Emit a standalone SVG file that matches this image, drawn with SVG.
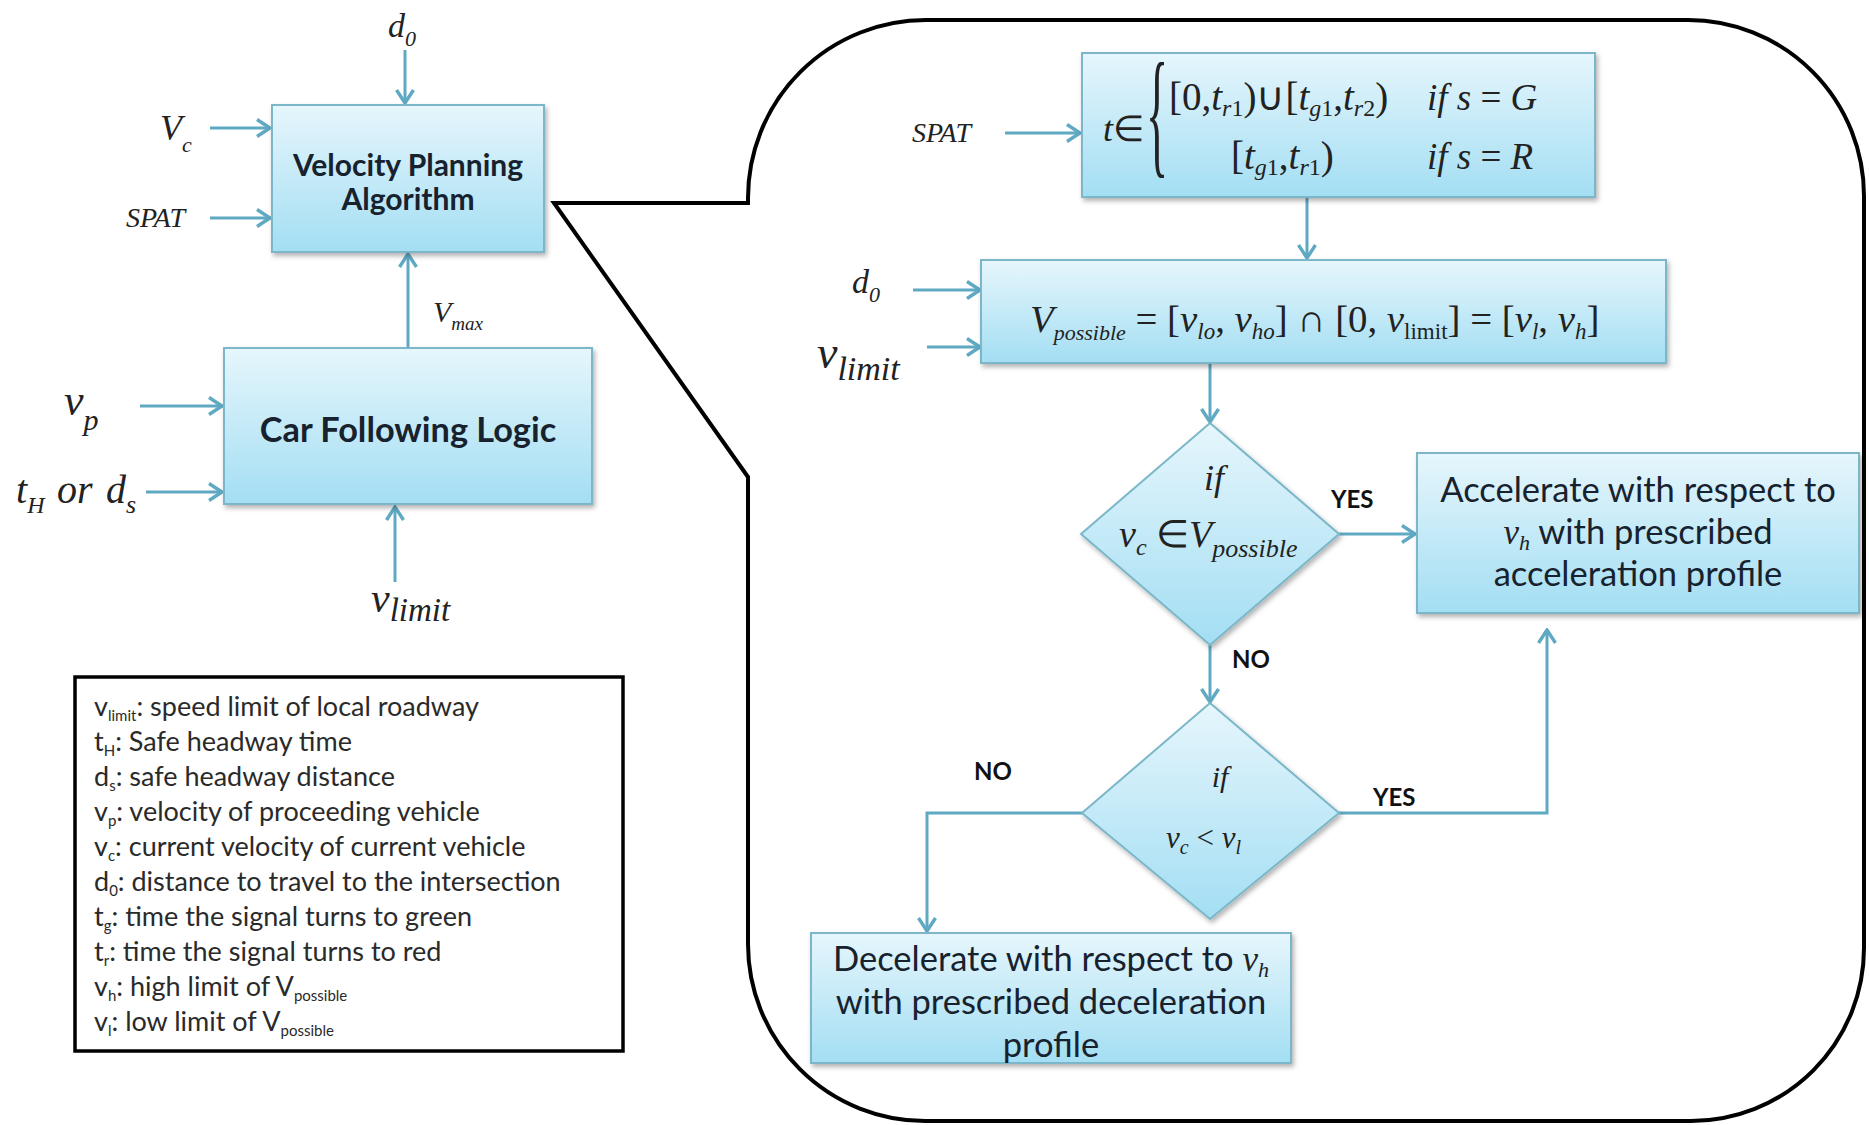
<svg xmlns="http://www.w3.org/2000/svg" width="1869" height="1125" viewBox="0 0 1869 1125">
<defs>
<linearGradient id="bf" x1="0" y1="0" x2="0" y2="1"><stop offset="0" stop-color="#e6f6fc"/><stop offset="1" stop-color="#a3def3"/></linearGradient>
<filter id="sh" x="-10%" y="-10%" width="125%" height="135%"><feDropShadow dx="2" dy="3" stdDeviation="2.5" flood-color="#000" flood-opacity="0.3"/></filter>
<marker id="ah" viewBox="0 0 16 20" refX="14" refY="10" markerWidth="16" markerHeight="20" markerUnits="userSpaceOnUse" orient="auto"><path d="M1,1.5 L14,10 L1,18.5" fill="none" stroke="#5fa9c3" stroke-width="3.4"/></marker>
</defs>
<style>
.box{fill:url(#bf);stroke:#7bb7c9;stroke-width:2;filter:url(#sh)}
.lbl{font-family:Lato,"Liberation Sans",sans-serif;fill:#17222e}
.b{font-weight:bold}
.m{font-family:"Liberation Serif",serif;font-style:italic;fill:#222}
.u{font-style:normal}
.c{fill:none;stroke:#5fa9c3;stroke-width:3}
.a{marker-end:url(#ah)}
.yn{font-family:Lato,"Liberation Sans",sans-serif;font-weight:bold;font-size:24px;fill:#111}
.leg{font-family:Lato,"Liberation Sans",sans-serif;font-size:27px;fill:#2a2a2a}
.sub{font-size:15px}
</style>
<rect width="1869" height="1125" fill="#fff"/>

<g id="callout"><path d="M554,203 L748,203 L748,198 A178,178 0 0 1 926,20 L1688,20 A176,176 0 0 1 1864,196 L1864,948 A173,173 0 0 1 1691,1121 L925,1121 A177,177 0 0 1 748,944 L748,477 Z" fill="none" stroke="#000" stroke-width="4" stroke-linejoin="miter"/></g>

<g id="connectors">
<path class="c a" d="M405,50 V103"/>
<path class="c a" d="M210,128 H270"/>
<path class="c a" d="M210,218 H270"/>
<path class="c a" d="M408,348 V254"/>
<path class="c a" d="M140,406 H222"/>
<path class="c a" d="M146,492 H222"/>
<path class="c a" d="M395,582 V507"/>
<path class="c a" d="M1005,133 H1080"/>
<path class="c a" d="M1307,197 V258"/>
<path class="c a" d="M913,290 H980"/>
<path class="c a" d="M927,347 H980"/>
<path class="c a" d="M1210,364 V422"/>
<path class="c a" d="M1339,534 H1415"/>
<path class="c a" d="M1210,645 V702"/>
<path class="c a" d="M1339,813 H1547 V630"/>
<path class="c a" d="M1083,813 H927 V931"/>
</g>

<g id="inputs-left">
<text class="m" x="388" y="37" font-size="34">d<tspan font-size="22" dy="9">0</tspan></text>
<text class="m" x="160" y="140" font-size="36" fill="#444">V<tspan font-size="22" dy="12">c</tspan></text>
<text class="m" x="126" y="227" font-size="28">SPAT</text>
<text class="m" x="433" y="322" font-size="30" fill="#555">V<tspan font-size="19" dy="8">max</tspan></text>
<text class="m" x="64" y="415" font-size="44">v<tspan font-size="30" dy="15">p</tspan></text>
<text class="m" x="16" y="503" font-size="40">t<tspan font-size="24" dy="10">H</tspan><tspan x="57" dy="-10">or</tspan><tspan x="106">d</tspan><tspan font-size="26" dy="10">s</tspan></text>
<text class="m" x="371" y="612" font-size="42">v<tspan font-size="33" dy="9">limit</tspan></text>
</g>

<g id="vpa">
<rect class="box" x="272" y="105" width="272" height="147"/>
<text class="lbl b" x="408" y="176" font-size="30" text-anchor="middle">Velocity Planning</text>
<text class="lbl b" x="408" y="210" font-size="30" text-anchor="middle">Algorithm</text>
</g>

<g id="cfl">
<rect class="box" x="224" y="348" width="368" height="156"/>
<text class="lbl b" x="408" y="442" font-size="34.3" text-anchor="middle">Car Following Logic</text>
</g>

<g id="legend">
<rect x="75" y="677" width="548" height="374" fill="#fff" stroke="#000" stroke-width="3.5"/>
<text class="leg" x="94" y="716">v<tspan class="sub" dy="5">limit</tspan><tspan dy="-5">: speed limit of local roadway</tspan></text>
<text class="leg" x="94" y="751">t<tspan class="sub" dy="5">H</tspan><tspan dy="-5">: Safe headway time</tspan></text>
<text class="leg" x="94" y="786">d<tspan class="sub" dy="5">s</tspan><tspan dy="-5">: safe headway distance</tspan></text>
<text class="leg" x="94" y="821">v<tspan class="sub" dy="5">p</tspan><tspan dy="-5">: velocity of proceeding vehicle</tspan></text>
<text class="leg" x="94" y="856">v<tspan class="sub" dy="5">c</tspan><tspan dy="-5">: current velocity of current vehicle</tspan></text>
<text class="leg" x="94" y="891">d<tspan class="sub" dy="5">0</tspan><tspan dy="-5">: distance to travel to the intersection</tspan></text>
<text class="leg" x="94" y="926">t<tspan class="sub" dy="5">g</tspan><tspan dy="-5">: time the signal turns to green</tspan></text>
<text class="leg" x="94" y="961">t<tspan class="sub" dy="5">r</tspan><tspan dy="-5">: time the signal turns to red</tspan></text>
<text class="leg" x="94" y="996">v<tspan class="sub" dy="5">h</tspan><tspan dy="-5">: high limit of V</tspan><tspan class="sub" dy="5">possible</tspan></text>
<text class="leg" x="94" y="1031">v<tspan class="sub" dy="5">l</tspan><tspan dy="-5">: low limit of V</tspan><tspan class="sub" dy="5">possible</tspan></text>
</g>

<g id="inputs-right">
<text class="m" x="912" y="142" font-size="28">SPAT</text>
<text class="m" x="852" y="293" font-size="34">d<tspan font-size="22" dy="9">0</tspan></text>
<text class="m" x="817" y="368" font-size="46">v<tspan font-size="34" dy="12">limit</tspan></text>
</g>

<g id="signal-window">
<rect class="box" x="1082" y="53" width="513" height="144"/>
<text class="m" x="1103" y="141" font-size="36">t<tspan class="u">∈</tspan></text>
<text class="m u" transform="translate(1146,159) scale(0.33,1)" font-size="140">{</text>
<text class="m u" x="1169" y="110" font-size="39">[0,<tspan font-style="italic">t</tspan><tspan font-style="italic" font-size="24" dy="6">r</tspan><tspan font-size="24">1</tspan><tspan dy="-6">)∪[</tspan><tspan font-style="italic">t</tspan><tspan font-style="italic" font-size="24" dy="6">g</tspan><tspan font-size="24">1</tspan><tspan dy="-6">,</tspan><tspan font-style="italic">t</tspan><tspan font-style="italic" font-size="24" dy="6">r</tspan><tspan font-size="24">2</tspan><tspan dy="-6">)</tspan></text>
<text class="m" x="1427" y="110" font-size="37">if s <tspan class="u">=</tspan> G</text>
<text class="m u" x="1231" y="169" font-size="39">[<tspan font-style="italic">t</tspan><tspan font-style="italic" font-size="24" dy="6">g</tspan><tspan font-size="24">1</tspan><tspan dy="-6">,</tspan><tspan font-style="italic">t</tspan><tspan font-style="italic" font-size="24" dy="6">r</tspan><tspan font-size="24">1</tspan><tspan dy="-6">)</tspan></text>
<text class="m" x="1427" y="169" font-size="37">if s <tspan class="u">=</tspan> R</text>
</g>

<g id="vpossible">
<rect class="box" x="981" y="260" width="685" height="103"/>
<text class="m" x="1030" y="332" font-size="38.8">V<tspan font-size="22" dy="8">possible</tspan><tspan class="u" dy="-8"> = [</tspan>v<tspan font-size="23" dy="7">lo</tspan><tspan class="u" dy="-7">, </tspan>v<tspan font-size="23" dy="7">ho</tspan><tspan class="u" dy="-7">] ∩ [0, </tspan>v<tspan class="u" font-size="23" dy="7">limit</tspan><tspan class="u" dy="-7">] = [</tspan>v<tspan font-size="23" dy="7">l</tspan><tspan class="u" dy="-7">, </tspan>v<tspan font-size="23" dy="7">h</tspan><tspan class="u" dy="-7">]</tspan></text>
</g>

<g id="decision1">
<polygon class="box" points="1210,423 1339,534 1210,645 1081,534"/>
<text class="m" x="1214" y="490" font-size="36" text-anchor="middle">if</text>
<text class="m" x="1119" y="547" font-size="38">v<tspan font-size="24" dy="8">c</tspan><tspan class="u" dy="-8"> ∈</tspan>V<tspan font-size="26" dy="10">possible</tspan></text>
</g>

<g id="decision2">
<polygon class="box" points="1210,703 1339,813 1210,919 1082,813"/>
<text class="m" x="1220" y="787" font-size="30" text-anchor="middle">if</text>
<text class="m" x="1166" y="848" font-size="31">v<tspan font-size="20" dy="6">c</tspan><tspan class="u" dy="-6"> &lt; </tspan>v<tspan font-size="20" dy="6">l</tspan></text>
</g>

<g id="accelerate">
<rect class="box" x="1417" y="453" width="442" height="160"/>
<text class="lbl" x="1638" y="502" font-size="34.5" text-anchor="middle">Accelerate with respect to</text>
<text class="lbl" x="1638" y="544" font-size="34.5" text-anchor="middle"><tspan class="m" font-size="35">v</tspan><tspan class="m" font-size="22" dy="6">h</tspan><tspan dy="-6"> with prescribed</tspan></text>
<text class="lbl" x="1638" y="586" font-size="34.5" text-anchor="middle">acceleration profile</text>
</g>

<g id="decelerate">
<rect class="box" x="811" y="933" width="480" height="130"/>
<text class="lbl" x="1051" y="971" font-size="34.5" text-anchor="middle">Decelerate with respect to <tspan class="m" font-size="35">v</tspan><tspan class="m" font-size="22" dy="6">h</tspan></text>
<text class="lbl" x="1051" y="1014" font-size="34.5" text-anchor="middle">with prescribed deceleration</text>
<text class="lbl" x="1051" y="1057" font-size="34.5" text-anchor="middle">profile</text>
</g>

<g id="branch-labels">
<text class="yn" x="1331" y="508">YES</text>
<text class="yn" x="1232" y="668">NO</text>
<text class="yn" x="1373" y="806">YES</text>
<text class="yn" x="974" y="780">NO</text>
</g>
</svg>
